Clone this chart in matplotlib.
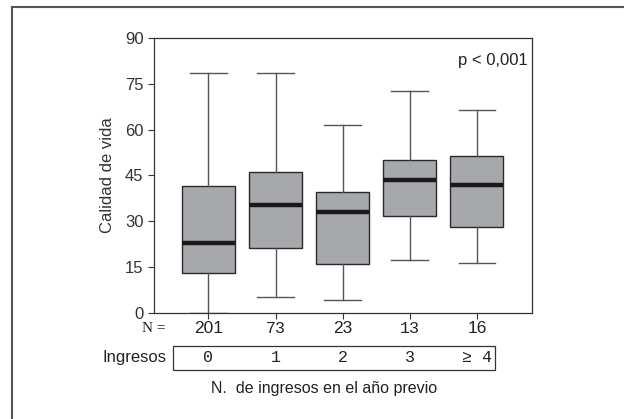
import matplotlib
matplotlib.use("Agg")
import matplotlib.pyplot as plt
from matplotlib.lines import Line2D
from matplotlib.patches import Rectangle

groups = ["0", "1", "2", "3", "\u2265 4"]
n_values = ["201", "73", "23", "13", "16"]
whislo = [0.0, 5.2, 4.2, 17.3, 16.2]
q1 = [13.2, 21.2, 16.0, 31.6, 28.2]
med = [23.0, 35.3, 33.1, 43.5, 42.0]
q3 = [41.6, 46.0, 39.7, 50.0, 51.3]
whishi = [78.7, 78.5, 61.6, 72.5, 66.5]
yticks = [0, 15, 30, 45, 60, 75, 90]

SANS = ["Liberation Sans", "DejaVu Sans"]
SERIF = ["Liberation Serif", "DejaVu Serif"]
MONO = ["Liberation Mono", "DejaVu Sans Mono"]
plt.rcParams["font.family"] = SANS

fig = plt.figure(figsize=(6.24, 4.19), dpi=100)
ax = fig.add_axes([0.2468, 0.253, 0.6058, 0.6563])

stats = []
for i in range(len(groups)):
    stats.append(dict(whislo=whislo[i], q1=q1[i], med=med[i], q3=q3[i],
                      whishi=whishi[i], fliers=[], label=groups[i]))
positions = list(range(1, len(groups) + 1))
ax.bxp(stats, positions=positions, widths=0.79, patch_artist=True,
       showfliers=False,
       boxprops=dict(facecolor="#a7a8ac", edgecolor="#2a2a2a", linewidth=1.0),
       medianprops=dict(color="#1a1a1a", linewidth=3.2),
       whiskerprops=dict(color="#555555", linewidth=1.0),
       capprops=dict(color="#555555", linewidth=1.0),
       capwidths=0.55)

ax.set_xlim(0.19, 5.82)
ax.set_ylim(0, 90)
ax.set_yticks(yticks)
ax.set_yticklabels([str(v) for v in yticks], fontsize=12, color="#333333")
ax.set_xticks(positions)
ax.set_xticklabels([])
ax.tick_params(axis="both", direction="out", length=4, width=0.8, color="#333333")
for s in ax.spines.values():
    s.set_color("#333333")
    s.set_linewidth(0.9)
ax.set_ylabel("Calidad de vida", fontsize=12, color="#333333", labelpad=7)
ax.text(0.99, 0.92, "p < 0,001", transform=ax.transAxes, ha="right",
        va="center", fontsize=12, color="#222222")

# N row
trans = ax.get_xaxis_transform()
ax.text(0.03, -0.057, "N =", transform=ax.transAxes, ha="right", va="center",
        fontsize=11, family=SERIF, color="#222222")
n_fams = [SANS, MONO, SANS, MONO, SANS]
n_sizes = [12.5, 12, 12.5, 12, 12.5]
for x, n, f, fs in zip(positions, n_values, n_fams, n_sizes):
    ax.text(x, -0.058, n, transform=trans, ha="center", va="center",
            fontsize=fs, family=f, color="#222222", clip_on=False)

# Ingresos row
ax.add_patch(Rectangle((0.473, -0.207), 5.27 - 0.473, 0.088, transform=trans,
                       fill=False, edgecolor="#333333", linewidth=0.9,
                       clip_on=False))
ax.text(0.37, -0.163, "Ingresos", transform=trans, ha="right", va="center",
        fontsize=12, color="#222222")
for x, g in zip(positions, groups):
    ax.text(x, -0.163, g, transform=trans, ha="center", va="center",
            fontsize=12, family=MONO, color="#222222", clip_on=False)

ax.text(0.45, -0.273, "N.  de ingresos en el año previo", transform=ax.transAxes,
        ha="center", va="center", fontsize=11.5, color="#222222")

# outer frame (left and top)
fig.add_artist(Line2D([11.5 / 624, 11.5 / 624], [0, 1 - 7.5 / 419],
                      transform=fig.transFigure, color="#555555", linewidth=1.5))
fig.add_artist(Line2D([11.5 / 624, 1], [1 - 7.5 / 419, 1 - 7.5 / 419],
                      transform=fig.transFigure, color="#555555", linewidth=1.5))

fig.savefig("out.png", dpi=100)
